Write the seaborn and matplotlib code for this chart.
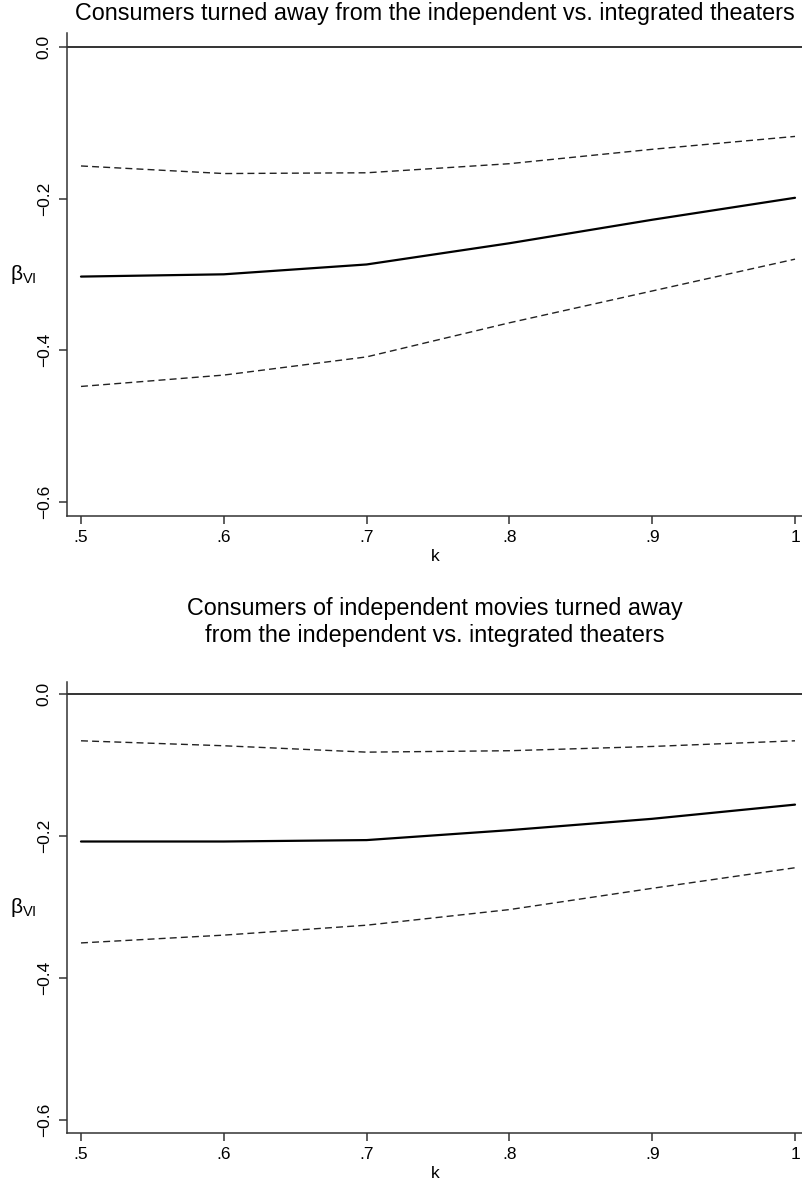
import matplotlib
matplotlib.use("Agg")
import matplotlib.pyplot as plt
import numpy as np
import pandas as pd
import seaborn as sns

### Data ###

k = [0.5, 0.6, 0.7, 0.8, 0.9, 1.0]

top_est = [-0.303, -0.300, -0.287, -0.259, -0.228, -0.199]
top_hi = [-0.157, -0.167, -0.166, -0.154, -0.135, -0.118]
top_lo = [-0.448, -0.433, -0.409, -0.364, -0.322, -0.280]

bot_est = [-0.208, -0.208, -0.206, -0.192, -0.176, -0.156]
bot_hi = [-0.066, -0.073, -0.082, -0.080, -0.074, -0.066]
bot_lo = [-0.351, -0.340, -0.326, -0.304, -0.274, -0.245]

titles = [
    "Consumers turned away from the independent vs. integrated theaters",
    "Consumers of independent movies turned away\nfrom the independent vs. integrated theaters",
]
xticks = [0.5, 0.6, 0.7, 0.8, 0.9, 1.0]
xtick_labels = [".5", ".6", ".7", ".8", ".9", "1"]
yticks = [0.0, -0.2, -0.4, -0.6]
ytick_labels = ["0.0", "\u22120.2", "\u22120.4", "\u22120.6"]

### Style ###

sns.set_style("ticks")
plt.rcParams["font.family"] = ["Liberation Sans", "DejaVu Sans"]
plt.rcParams["mathtext.fontset"] = "custom"
plt.rcParams["mathtext.rm"] = "Liberation Sans"
plt.rcParams["mathtext.it"] = "Liberation Sans"
plt.rcParams["text.color"] = "black"
plt.rcParams["axes.labelcolor"] = "black"
plt.rcParams["xtick.labelcolor"] = "black"
plt.rcParams["ytick.labelcolor"] = "black"

W, H = 803, 1186
fig = plt.figure(figsize=(W / 100, H / 100), dpi=100)

# axes boxes in pixels: left, top, right, bottom
boxes = [(67, 33, 803, 516), (67, 682, 803, 1133)]
ylims = [(-0.619, 0.0185), (-0.619, 0.0169)]
title_pads = [9.5, 29]

panels = [(top_est, top_hi, top_lo), (bot_est, bot_hi, bot_lo)]

for i, (est, hi, lo) in enumerate(panels):
    l, t, r, b = boxes[i]
    ax = fig.add_axes([l / W, 1 - b / H, (r - l) / W, (b - t) / H])

    df = pd.DataFrame({"k": k, "est": est, "hi": hi, "lo": lo})

    ax.axhline(0, color="#333333", lw=1.4, zorder=1)
    sns.lineplot(data=df, x="k", y="hi", ax=ax, color="#222222", lw=1.0,
                 linestyle=(0, (5, 3)))
    sns.lineplot(data=df, x="k", y="lo", ax=ax, color="#222222", lw=1.0,
                 linestyle=(0, (5, 3)))
    sns.lineplot(data=df, x="k", y="est", ax=ax, color="black", lw=1.6)

    ax.set_xlim(0.4902, 1.0056)
    ax.set_ylim(*ylims[i])

    ax.set_xticks(xticks)
    ax.set_xticklabels(xtick_labels)
    ax.set_yticks(yticks)
    ax.set_yticklabels(ytick_labels, rotation=90, va="center")

    ax.tick_params(axis="both", direction="out", length=6, width=1.1,
                   color="#333333", labelsize=12.5, pad=4)
    ax.tick_params(axis="y", pad=5)

    sns.despine(ax=ax, top=True, right=True)
    for s in ["left", "bottom"]:
        ax.spines[s].set_color("#333333")
        ax.spines[s].set_linewidth(1.1)

    ax.set_xlabel("k", fontsize=12.5, labelpad=3)
    ax.set_ylabel(r"$\mathrm{\beta_{VI}}$", fontsize=15, rotation=0,
                  ha="center", va="center")
    ax.yaxis.set_label_coords(-0.06, 0.5)

    ax.set_title(titles[i], fontsize=16.8, pad=title_pads[i], linespacing=1.2)

fig.savefig("out.png", dpi=100)
